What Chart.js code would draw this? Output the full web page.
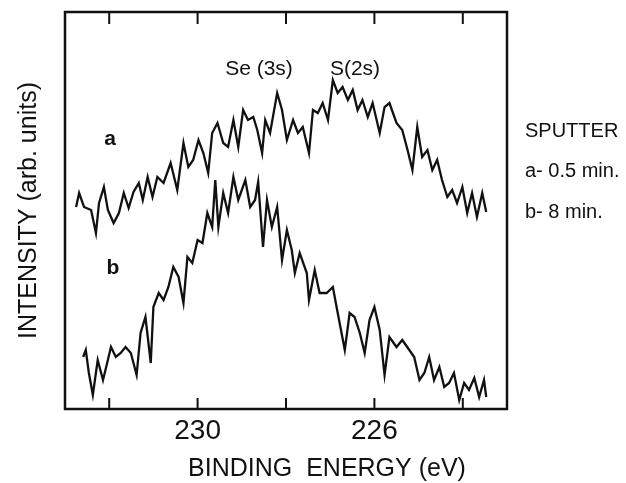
<!DOCTYPE html>
<html>
<head>
<meta charset="utf-8">
<script src="https://cdn.jsdelivr.net/npm/chart.js@4"></script>
<style>
  html, body { margin: 0; padding: 0; background: #fff; }
</style>
</head>
<body>
<canvas id="xps" width="626" height="483"></canvas>
<script>
// spectrum a: 0.5 min sputter (binding energy eV, intensity arb. units)
const energyA = [232.75,232.68,232.57,232.41,232.30,232.23,232.12,232.03,231.90,231.78,
  231.67,231.56,231.45,231.33,231.24,231.13,231.02,230.91,230.77,230.61,
  230.46,230.32,230.21,230.10,229.98,229.87,229.76,229.67,229.55,229.42,
  229.31,229.19,229.08,228.97,228.86,228.74,228.65,228.54,228.47,228.36,
  228.20,228.09,227.98,227.84,227.73,227.62,227.48,227.39,227.28,227.17,
  227.05,226.94,226.83,226.72,226.60,226.49,226.38,226.27,226.15,226.04,
  225.88,225.77,225.66,225.50,225.37,225.25,225.14,225.03,224.92,224.80,
  224.69,224.58,224.47,224.35,224.24,224.13,224.01,223.90,223.79,223.68,
  223.56,223.47];
const intensityA = [203,217,203,200,177,207,223,200,187,197,
  217,202,218,227,210,233,213,233,227,247,
  220,267,243,250,270,257,237,277,287,267,
  263,290,263,300,290,293,280,257,290,277,
  317,300,270,290,277,283,257,300,297,307,
  290,330,317,323,310,320,300,310,293,307,
  277,303,307,287,280,260,240,283,253,260,
  240,250,230,213,220,207,223,197,217,193,
  217,198];

// spectrum b: 8 min sputter
const energyB = [232.59,232.53,232.46,232.37,232.26,232.14,232.03,231.96,231.85,231.74,
  231.63,231.51,231.38,231.29,231.18,231.06,231.00,230.88,230.77,230.66,
  230.55,230.43,230.32,230.23,230.12,230.00,229.89,229.78,229.67,229.60,
  229.53,229.42,229.31,229.19,229.08,228.92,228.81,228.70,228.63,228.52,
  228.43,228.32,228.20,228.09,227.98,227.87,227.80,227.69,227.53,227.48,
  227.35,227.24,227.08,226.94,226.83,226.67,226.56,226.45,226.33,226.22,
  226.11,226.00,225.88,225.77,225.66,225.50,225.37,225.21,225.10,224.98,
  224.87,224.76,224.65,224.53,224.42,224.31,224.20,224.08,223.97,223.86,
  223.74,223.63,223.52,223.47];
const intensityB = [53,60,37,15,50,30,50,63,53,57,
  63,57,35,77,93,47,103,117,110,123,
  143,133,107,153,147,170,167,197,183,230,
  183,217,197,233,210,230,203,210,228,163,
  210,183,203,150,180,160,137,157,137,110,
  140,117,117,123,97,60,97,93,77,57,
  90,103,80,35,73,63,70,60,53,30,
  37,53,30,43,23,27,37,10,27,20,
  32,13,30,13];

const tickEnergies = [232, 230, 228, 226, 224];
const labeledTicks = [230, 226];

const FONT = '"Liberation Sans", Arial, Helvetica, sans-serif';
const INK = '#111';

function toPoints(xs, ys) {
  return xs.map((x, i) => ({ x: x, y: ys[i] }));
}

// frame with inward ticks + text annotations
const framePlugin = {
  id: 'frame',
  afterDraw(chart) {
    const ctx = chart.ctx;
    const a = chart.chartArea;
    const xs = chart.scales.x;
    ctx.save();
    ctx.strokeStyle = INK;
    ctx.lineWidth = 2.5;
    ctx.strokeRect(a.left, a.top, a.right - a.left, a.bottom - a.top);

    ctx.lineWidth = 2;
    tickEnergies.forEach(v => {
      const px = xs.getPixelForValue(v);
      ctx.beginPath();
      ctx.moveTo(px, a.bottom);
      ctx.lineTo(px, a.bottom - 11);
      ctx.moveTo(px, a.top);
      ctx.lineTo(px, a.top + 12);
      ctx.stroke();
    });

    ctx.fillStyle = INK;
    ctx.textBaseline = 'middle';
    ctx.textAlign = 'center';
    ctx.font = '25px ' + FONT;
    ctx.fillText('BINDING  ENERGY (eV)', 327, 469);

    ctx.font = '21px ' + FONT;
    ctx.fillText('Se (3s)', 259, 69);
    ctx.fillText('S(2s)', 355, 69);

    ctx.font = 'bold 21px ' + FONT;
    ctx.fillText('a', 110, 139);
    ctx.fillText('b', 113, 268);

    ctx.textAlign = 'left';
    ctx.font = '20px ' + FONT;
    ctx.fillText('SPUTTER', 525, 131);
    ctx.fillText('a- 0.5 min.', 525, 171);
    ctx.fillText('b- 8 min.', 525, 212);
    ctx.restore();
  }
};

const ctx = document.getElementById('xps').getContext('2d');
const chart = new Chart(ctx, {
  type: 'line',
  data: {
    datasets: [{
      label: 'a',
      data: toPoints(energyA, intensityA),
      borderColor: INK,
      borderWidth: 2.3,
      pointRadius: 0,
      tension: 0
    }, {
      label: 'b',
      data: toPoints(energyB, intensityB),
      borderColor: INK,
      borderWidth: 2.3,
      pointRadius: 0,
      tension: 0
    }]
  },
  options: {
    responsive: false,
    animation: false,
    devicePixelRatio: 1,
    layout: { padding: { left: 0, right: 119, top: 12, bottom: 0 } },
    plugins: { legend: { display: false }, tooltip: { enabled: false } },
    scales: {
      x: {
        type: 'linear',
        reverse: true,
        min: 223,
        max: 233,
        afterBuildTicks: s => { s.ticks = tickEnergies.map(v => ({ value: v })); },
        afterFit: s => { s.height = 74; },
        grid: { display: false, drawTicks: false },
        border: { display: false },
        ticks: {
          autoSkip: false,
          maxRotation: 0,
          padding: 5,
          color: INK,
          font: { family: FONT, size: 28 },
          callback: v => labeledTicks.includes(v) ? String(v) : ''
        }
      },
      y: {
        min: 1,
        max: 398,
        afterFit: s => { s.width = 65; },
        grid: { display: false, drawTicks: false },
        border: { display: false },
        ticks: { display: false },
        title: {
          display: true,
          text: 'INTENSITY (arb. units)',
          color: INK,
          font: { family: FONT, size: 25, lineHeight: 1.1 },
          padding: { top: 15, bottom: 0 }
        }
      }
    }
  },
  plugins: [framePlugin]
});
</script>
</body>
</html>
